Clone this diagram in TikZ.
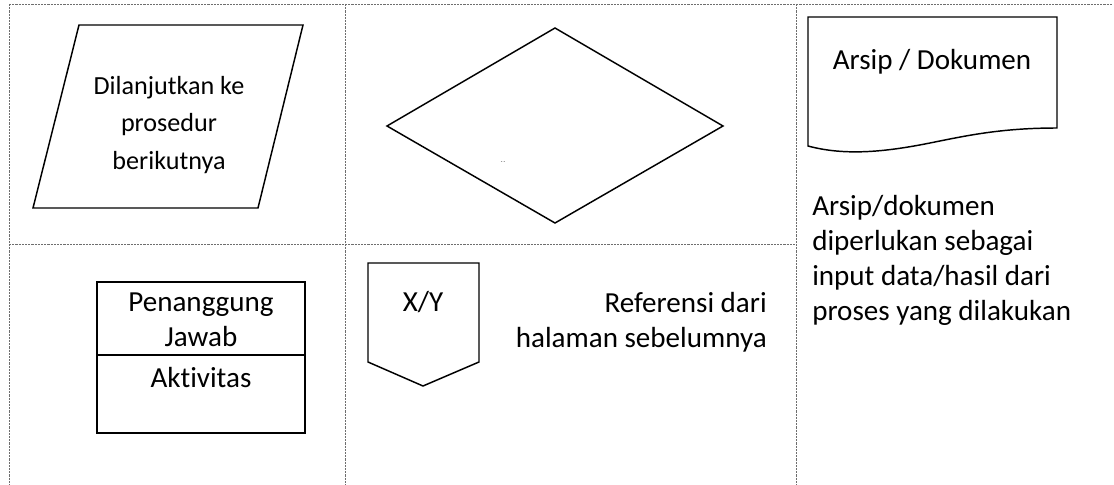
\documentclass[tikz,border=0pt]{standalone}
\usepackage{fontspec}
\setmainfont{Carlito}[Ligatures={NoCommon,NoRare,NoContextual}]
\usepackage{xcolor}
\usepackage{tikz}

\begin{document}
\begin{tikzpicture}[x=0.75pt,y=0.75pt,yscale=-1,xscale=1,
	grid line/.style={color={rgb, 255:red, 110; green, 110; blue, 110 }, line width=0.6pt, dash pattern={on 1.6pt off 0.8pt}},
	shape line/.style={color=black, line width=1.1pt, line join=miter},
	big text/.style={inner sep=0.75pt, font=\fontsize{21.8}{26.3}\selectfont},
	small text/.style={inner sep=0.75pt, font=\fontsize{19.6}{27.9}\selectfont}]
	\useasboundingbox (0,0) rectangle (1114,485);
	
	%Straight Lines: table frame
	\draw [grid line] (9,4) -- (1112,4) ;
	\draw [grid line] (9,4) -- (9,485) ;
	\draw [grid line] (345,4) -- (345,485) ;
	\draw [grid line] (796,4) -- (796,485) ;
	\draw [grid line] (9,244) -- (796,244) ;
	
	%Shape: Parallelogram
	\draw [shape line] (79,25) -- (303,25) -- (258,208) -- (33,208) -- cycle ;
	%Shape: Diamond
	\draw [shape line] (387,126) -- (555,28) -- (723,126) -- (555,223) -- cycle ;
	%Shape: Document
	\draw [shape line] (808,17) -- (1057,17) -- (1057,128) .. controls (1000,128) and (965,136) .. (930,143) .. controls (885,152) and (845,156) .. (808,146) -- cycle ;
	%Shape: Rectangle
	\draw [shape line] (97,282) rectangle (305,433) ;
	%Straight Lines
	\draw [shape line] (97,355) -- (305,355) ;
	%Shape: Off-page connector
	\draw [shape line] (368,263) -- (479,263) -- (479,362) -- (423,386) -- (368,362) -- cycle ;
	
	% Text Node
	\draw (169,125) node (lanjut) [small text] [align=center] {Dilanjutkan ke\\ prosedur\\ berikutnya};
	% Text Node
	\draw (503,163) node (tanda) [inner sep=0pt] [font=\fontsize{4}{4}\selectfont] {- -};
	% Text Node
	\draw (932,62) node (arsip) [big text] [align=center] {Arsip / Dokumen};
	% Text Node
	\draw (811,194) node (ketarsip) [big text] [anchor=north west] [align=left] {Arsip/dokumen\\diperlukan sebagai\\input data/hasil dari\\proses yang dilakukan};
	% Text Node
	\draw (201,320) node (pj) [big text] [align=center] {Penanggung\\Jawab};
	% Text Node
	\draw (201,378) node (aktivitas) [big text] [align=center] {Aktivitas};
	% Text Node
	\draw (423,302) node (xy) [big text] [align=center] {X/Y};
	% Text Node
	\draw (768,322) node (referensi) [big text] [anchor=east] [align=right] {Referensi dari\\halaman sebelumnya\hspace{6pt}};
	
\end{tikzpicture}
\end{document}
